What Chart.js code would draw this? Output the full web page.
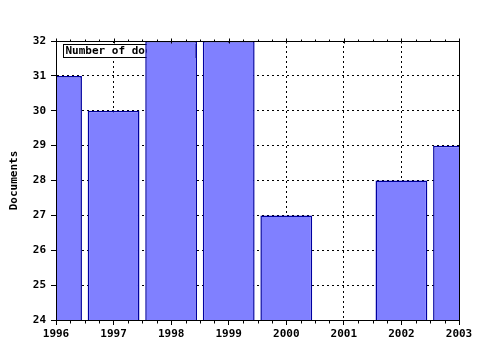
<!DOCTYPE html>
<html>
<head>
<meta charset="utf-8">
<script src="https://cdn.jsdelivr.net/npm/chart.js@4/dist/chart.umd.min.js"></script>
<style>
  html, body { margin: 0; padding: 0; background: #fff; }
  #wrap { width: 480px; height: 350px; }
</style>
</head>
<body>
<div id="wrap"><canvas id="myChart"></canvas></div>
<script>
// 데이터
const years = ["1996", "1997", "1998", "1999", "2000", "2001", "2002", "2003"];
const documents = [31, 30, 32, 32, 27, null, 28, 29];
const yMin = 24;
const yMax = 32;
const legendLabel = "Number of documents";

Chart.defaults.font.family = "'DejaVu Sans Mono', monospace";
Chart.defaults.font.weight = "bold";
Chart.defaults.font.size = 11;
Chart.defaults.color = "#000";

// 범례 상자 (막대 뒤에 그림)
const legendBox = {
  id: "legendBox",
  beforeDatasetsDraw(chart) {
    const { ctx, chartArea } = chart;
    ctx.save();
    ctx.font = "bold 11px 'DejaVu Sans Mono', monospace";
    const w = ctx.measureText(legendLabel).width + 6;
    const x = chartArea.left + 7.5;
    const y = chartArea.top + 3.5;
    ctx.fillStyle = "#fff";
    ctx.fillRect(x, y, w, 13);
    ctx.strokeStyle = "#000";
    ctx.lineWidth = 1;
    ctx.strokeRect(x, y, w, 13);
    ctx.fillStyle = "#000";
    ctx.textBaseline = "middle";
    ctx.fillText(legendLabel, x + 2, y + 7);
    ctx.restore();
  },
};

// 테두리와 보조 눈금
const frame = {
  id: "frame",
  afterDatasetsDraw(chart) {
    const { ctx, chartArea } = chart;
    const xs = chart.scales.x;
    ctx.save();
    ctx.strokeStyle = "#000";
    ctx.lineWidth = 1;
    ctx.strokeRect(
      Math.round(chartArea.left) + 0.5,
      Math.round(chartArea.top) + 0.5,
      Math.round(chartArea.right - chartArea.left),
      Math.round(chartArea.bottom - chartArea.top)
    );
    const top = Math.round(chartArea.top) + 0.5;
    const bottom = Math.round(chartArea.bottom) + 0.5;
    ctx.beginPath();
    for (let i = 0; i < years.length; i++) {
      const px = Math.round(xs.getPixelForValue(i)) + 0.5;
      ctx.moveTo(px, top - 3);
      ctx.lineTo(px, top + 2);
      if (i < years.length - 1) {
        const nx = xs.getPixelForValue(i + 1);
        for (let k = 1; k < 4; k++) {
          const mx = Math.round(xs.getPixelForValue(i) + ((nx - xs.getPixelForValue(i)) * k) / 4) + 0.5;
          ctx.moveTo(mx, top - 2);
          ctx.lineTo(mx, top);
          ctx.moveTo(mx, bottom);
          ctx.lineTo(mx, bottom + 3);
        }
      }
    }
    ctx.stroke();
    ctx.restore();
  },
};

const gridOpts = {
  color: "#000",
  lineWidth: 1,
  tickLength: 5,
  tickColor: "#000",
  tickBorderDash: [],
};

const ctx = document.getElementById("myChart").getContext("2d");
const myChart = new Chart(ctx, {
  type: "bar",
  data: {
    labels: years,
    datasets: [
      {
        label: legendLabel,
        data: documents,
        backgroundColor: "#8080ff",
        borderColor: "#0000a0",
        borderWidth: 1.5,
        borderSkipped: false,
        barPercentage: 0.9,
        categoryPercentage: 1,
        clip: 0,
      },
    ],
  },
  options: {
    responsive: true,
    maintainAspectRatio: false,
    animation: false,
    layout: { padding: { top: 41, right: 21, left: 0, bottom: 0 } },
    plugins: {
      legend: { display: false },
      tooltip: { enabled: false },
    },
    scales: {
      x: {
        offset: false,
        grid: Object.assign({ offset: false }, gridOpts),
        border: { display: true, color: "#000", dash: [2, 3] },
        ticks: { padding: 3, maxRotation: 0, autoSkip: false },
        afterFit(scale) {
          scale.height = 30;
        },
      },
      y: {
        min: yMin,
        max: yMax,
        ticks: { stepSize: 1, padding: 5 },
        grid: gridOpts,
        border: { display: true, color: "#000", dash: [2, 3] },
        title: {
          display: true,
          text: "Documents",
          padding: { top: 8, bottom: 0 },
        },
        afterFit(scale) {
          scale.width = 56;
        },
      },
    },
  },
  plugins: [legendBox, frame],
});
</script>
</body>
</html>
